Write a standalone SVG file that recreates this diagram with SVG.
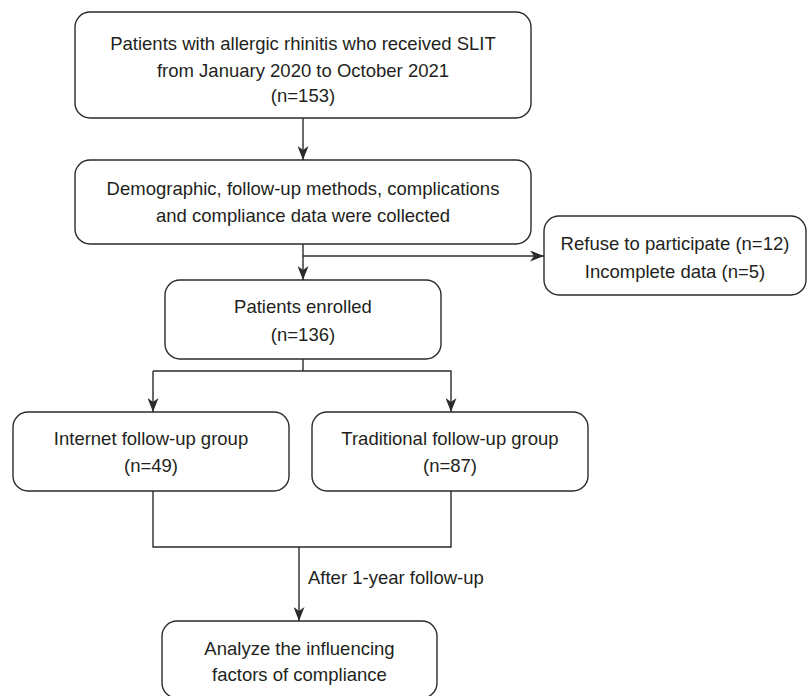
<svg xmlns="http://www.w3.org/2000/svg" width="808" height="696" viewBox="0 0 808 696">
<defs>
<marker id="ah" markerUnits="userSpaceOnUse" viewBox="0 0 14 11" refX="14" refY="5.5" markerWidth="14" markerHeight="11" orient="auto">
<path d="M0,0 L14,5.5 L0,11 L4,5.5 Z" fill="#2b2b2b"/>
</marker>
<style>
.box{fill:#fff;stroke:#2b2b2b;stroke-width:1.4}
.t{font-family:"Liberation Sans",Arial,Helvetica,sans-serif;font-size:18.5px;fill:#231f20;text-anchor:middle}
.lbl{font-family:"Liberation Sans",Arial,Helvetica,sans-serif;font-size:18.5px;fill:#231f20}
.c{fill:none;stroke:#2b2b2b;stroke-width:1.4}
.a{marker-end:url(#ah)}
</style>
</defs>
<rect width="808" height="696" fill="#fff"/>
<g id="connectors">
<line class="c a" x1="303" y1="118" x2="303" y2="160"/>
<line class="c a" x1="303" y1="244" x2="303" y2="280"/>
<line class="c a" x1="303" y1="256" x2="544" y2="256"/>
<polyline class="c" points="303,359 303,371"/>
<polyline class="c a" points="153,371 153,412"/>
<polyline class="c a" points="153,371 451,371 451,412"/>
<polyline class="c" points="153,491 153,547 451,547 451,491"/>
<line class="c a" x1="299" y1="547" x2="299" y2="621"/>
<text class="lbl" x="308" y="583.5">After 1-year follow-up</text>
</g>
<g id="n1">
<rect class="box" x="75" y="12" width="456" height="106" rx="15"/>
<text class="t" x="303" y="50">Patients with allergic rhinitis who received SLIT</text>
<text class="t" x="303" y="76.5">from January 2020 to October 2021</text>
<text class="t" x="303" y="102">(n=153)</text>
</g>
<g id="n2">
<rect class="box" x="75" y="160" width="456" height="84" rx="15"/>
<text class="t" x="303" y="194.5">Demographic, follow-up methods, complications</text>
<text class="t" x="303" y="221.5">and compliance data were collected</text>
</g>
<g id="n3">
<rect class="box" x="544" y="216" width="262" height="79" rx="15"/>
<text class="t" x="675" y="250">Refuse to participate (n=12)</text>
<text class="t" x="675" y="278">Incomplete data (n=5)</text>
</g>
<g id="n4">
<rect class="box" x="165" y="280" width="276" height="79" rx="15"/>
<text class="t" x="303" y="312.5">Patients enrolled</text>
<text class="t" x="303" y="340.5">(n=136)</text>
</g>
<g id="n5">
<rect class="box" x="13" y="412" width="276" height="79" rx="15"/>
<text class="t" x="151" y="444.5">Internet follow-up group</text>
<text class="t" x="151" y="471.5">(n=49)</text>
</g>
<g id="n6">
<rect class="box" x="312" y="412" width="276" height="79" rx="15"/>
<text class="t" x="450" y="444.5">Traditional follow-up group</text>
<text class="t" x="450" y="471.5">(n=87)</text>
</g>
<g id="n7">
<rect class="box" x="162" y="621" width="275" height="77" rx="15"/>
<text class="t" x="299.5" y="654.5">Analyze the influencing</text>
<text class="t" x="299.5" y="680.5">factors of compliance</text>
</g>
</svg>
